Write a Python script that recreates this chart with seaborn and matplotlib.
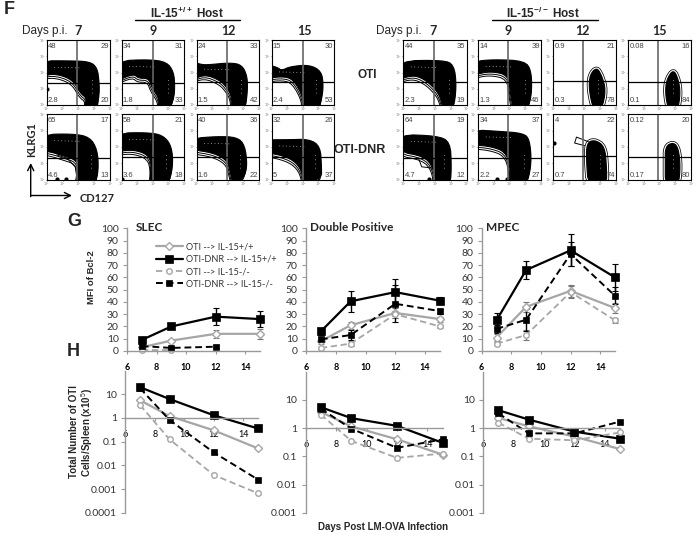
import matplotlib
matplotlib.use('Agg')
import matplotlib.pyplot as plt
from matplotlib.ticker import FixedLocator, FixedFormatter
import seaborn as sns

W, H = 696, 534
GRAY = '#a6a6a6'
AXIS = '#999999'
TEXT = '#333333'

days = [7, 9, 12, 15]
series_names = ['OTI --> IL-15+/+', 'OTI-DNR --> IL-15+/+', 'OTI --> IL-15-/-', 'OTI-DNR --> IL-15-/-']

# panel G, MFI of Bcl-2 (None = not measured)
slec_oti_wt = [3, 8.5, 14, 14]
slec_dnr_wt = [9, 20, 28, 26]
slec_oti_ko = [1, 1, None, None]
slec_dnr_ko = [4, 2.5, 3.5, None]
slec_err_oti_wt = [1, 1, 3.5, 4]
slec_err_dnr_wt = [1.5, 1.5, 7, 6.5]
slec_err_oti_ko = [0.5, 0.5, None, None]
slec_err_dnr_ko = [1, 1, 1, None]

dp_oti_wt = [8, 21, 31, 26]
dp_dnr_wt = [16, 40.5, 48, 41]
dp_oti_ko = [2.5, 6, 30, 20]
dp_dnr_ko = [9.5, 13, 38.5, 32.5]
dp_err_oti_wt = [2, 3, 4, 2]
dp_err_dnr_wt = [3, 8.5, 10.5, 3]
dp_err_oti_ko = [1, 2, 3, 1.5]
dp_err_dnr_ko = [2, 4, 15, 2]

mpec_oti_wt = [11, 36, 49, 35]
mpec_dnr_wt = [25, 66, 82, 60]
mpec_oti_ko = [6, 13, 48, 25]
mpec_dnr_ko = [18, 25.5, 79, 45]
mpec_err_oti_wt = [3, 4, 5, 4]
mpec_err_dnr_wt = [6, 7.5, 13, 11]
mpec_err_oti_ko = [1, 4, 5, 2]
mpec_err_dnr_ko = [3, 9, 10, 7]

# panel H, total cells per spleen
h_slec_oti_wt = [5.6, 1.2, 0.3, 0.052]
h_slec_dnr_wt = [20, 6.3, 1.3, 0.36]
h_slec_oti_ko = [3.5, 0.125, 0.0039, 0.00066]
h_slec_dnr_ko = [18, 0.82, 0.035, 0.0025]

h_dp_oti_wt = [3.7, 1.15, 0.4, 0.115]
h_dp_dnr_wt = [5.5, 2.25, 1.2, 0.3]
h_dp_oti_ko = [3, 0.35, 0.088, 0.125]
h_dp_dnr_ko = [4.8, 0.95, 0.2, 0.4]

h_mpec_oti_wt = [2.3, 1.15, 0.5, 0.18]
h_mpec_dnr_wt = [4.3, 2, 0.75, 0.42]
h_mpec_oti_ko = [1.55, 0.42, 0.37, 0.7]
h_mpec_dnr_ko = [3.3, 0.65, 0.65, 1.7]

g_ticks = list(range(0, 101, 10))
x_ticks = [6, 8, 10, 12, 14]
h_ticks_slec = [0.0001, 0.001, 0.01, 0.1, 1, 10]
h_labels_slec = ['0.0001', '0.001', '0.01', '0.1', '1', '10']
h_ticks_other = [0.001, 0.01, 0.1, 1, 10]
h_labels_other = ['0.001', '0.01', '0.1', '1', '10']

# flow cytometry panels: quadrant percentages UL, UR, LL, LR
pct_wt_oti = [[48, 29, 2.8, 20], [34, 31, 1.8, 33], [24, 33, 1.5, 42], [15, 30, 2.4, 53]]
pct_wt_dnr = [[65, 17, 4.6, 13], [58, 21, 3.6, 18], [40, 36, 1.6, 22], [32, 26, 5, 37]]
pct_ko_oti = [[44, 35, 2.3, 19], [14, 39, 1.3, 46], [0.9, 21, 0.3, 78], [0.08, 16, 0.1, 84]]
pct_ko_dnr = [[64, 19, 4.7, 12], [34, 37, 2.2, 27], [4, 22, 0.7, 74], [0.12, 20, 0.17, 80]]

# gate positions per panel (fraction of the panel)
gate_x_wt = [0.48, 0.505, 0.48, 0.497]
gate_x_ko = [0.49, 0.48, 0.48, 0.48]
gate_y_wt_oti = [0.337, 0.337, 0.357, 0.357]
gate_y_wt_dnr = [0.34, 0.345, 0.345, 0.345]
gate_y_ko_oti = [0.347, 0.347, 0.367, 0.357]
gate_y_ko_dnr = [0.34, 0.34, 0.37, 0.345]

# outermost contour of each flow plot
wt_oti_7 = [(0, .68), (.32, .68), (.68, .67), (.80, .57), (.83, .34), (.83, .16), (.79, 0), (.57, 0), (.64, .10), (.53, .18), (.43, .36), (.26, .45), (.05, .48), (0, .41)]
wt_oti_9 = [(0, .68), (.45, .70), (.72, .66), (.83, .51), (.85, .29), (.83, .08), (.74, 0), (.56, 0), (.61, .08), (.48, .27), (.43, .41), (.27, .41), (.19, .48), (0, .37)]
wt_oti_12 = [(0, .67), (.08, .62), (.2, .62), (.52, .65), (.72, .62), (.81, .44), (.81, .18), (.77, 0), (.56, 0), (.56, .13), (.48, .27), (.37, .38), (.13, .47), (0, .38)]
wt_oti_15 = [(0, .62), (.09, .58), (.16, .53), (.29, .59), (.6, .62), (.8, .52), (.83, .29), (.8, .08), (.75, 0), (.48, 0), (.51, .11), (.35, .39), (.19, .44), (0, .41)]
wt_dnr_7 = [(0, .69), (.42, .7), (.68, .65), (.8, .46), (.82, .15), (.76, 0), (.45, 0), (.5, .15), (.47, .3), (.28, .36), (.05, .43), (0, .43)]
wt_dnr_9 = [(0, .71), (.4, .72), (.66, .68), (.8, .51), (.82, .2), (.74, 0), (.45, 0), (.48, .2), (.43, .38), (.19, .46), (0, .43)]
wt_dnr_12 = [(0, .63), (.32, .66), (.64, .65), (.77, .53), (.81, .2), (.74, .02), (.58, 0), (.53, .15), (.48, .3), (.27, .41), (0, .46)]
wt_dnr_15 = [(0, .61), (.24, .61), (.6, .62), (.78, .51), (.8, .2), (.8, .03), (.51, 0), (.48, .15), (.35, .3), (.13, .38), (0, .41)]
ko_oti_7 = [(0, .68), (.63, .69), (.8, .62), (.84, .29), (.79, 0), (.63, 0), (.58, .13), (.49, .26), (.34, .39), (.16, .46), (0, .39)]
ko_oti_9 = [(0, .67), (.24, .7), (.74, .68), (.85, .52), (.85, .13), (.77, 0), (.56, 0), (.51, .18), (.48, .46), (.19, .52), (0, .46)]
ko_oti_12 = [(.58, .46), (.69, .58), (.77, .46), (.84, .23), (.77, 0), (.64, 0), (.57, .23)]
ko_oti_15 = [(.61, .39), (.72, .55), (.8, .39), (.83, .18), (.79, 0), (.64, 0), (.59, .18)]
ko_dnr_7 = [(0, .69), (.53, .67), (.74, .58), (.76, .2), (.74, 0), (.5, 0), (.47, .2), (.32, .36), (0, .43)]
ko_dnr_9 = [(0, .76), (.29, .74), (.72, .71), (.82, .61), (.85, .25), (.77, 0), (.51, 0), (.51, .2), (.43, .43), (.19, .51), (0, .53)]
ko_dnr_12 = [(.53, .56), (.66, .61), (.82, .51), (.85, .2), (.85, 0), (.56, 0), (.53, .25)]
ko_dnr_15 = [(.59, .51), (.72, .57), (.8, .48), (.83, .2), (.8, 0), (.59, 0), (.59, .25)]

# stray low density loops
loop_wt_dnr_7 = [(.16, .38), (.32, .33), (.45, .2), (.48, .02)]
loop_ko_dnr_7 = [(.24, .33), (.29, .2), (.47, .18)]
loop_ko_dnr_12 = [(.56, .58), (.37, .65), (.34, .56), (.5, .52)]

# single events on the panel edges
events_wt_oti = [[(.01, .25)], [], [], []]
events_wt_dnr = [[(.17, .01), (.31, .01)], [(.01, .01)], [], []]
events_ko_oti = [[], [], [], []]
events_ko_dnr = [[(.4, .01)], [(.3, .01), (.45, .01)], [(.01, .56)], []]


def px_axes(fig, left, top, right, bottom):
    return fig.add_axes([left / W, 1 - bottom / H, (right - left) / W, (bottom - top) / H])


def px_text(fig, x, y, s, **kw):
    kw.setdefault('ha', 'left')
    kw.setdefault('va', 'center')
    return fig.text(x / W, 1 - y / H, s, **kw)


def round_corners(outline, passes=2):
    # corner cutting, only so the contour is not drawn with sharp kinks.
    # points on the panel edge are pushed outside first so they stay flush
    pts = [(-0.08 if p[0] == 0 else p[0], -0.08 if p[1] == 0 else p[1]) for p in outline]
    for _ in range(passes):
        out = []
        for a, b in zip(pts, pts[1:] + pts[:1]):
            out.append((0.75 * a[0] + 0.25 * b[0], 0.75 * a[1] + 0.25 * b[1]))
            out.append((0.25 * a[0] + 0.75 * b[0], 0.25 * a[1] + 0.75 * b[1]))
        pts = out
    return pts


def draw_flow(ax, outline, pct, gate_x, gate_y, loop, events):
    pts = round_corners(outline)
    xs = [p[0] for p in pts]
    ys = [p[1] for p in pts]
    if min(p[0] for p in outline) > 0:
        # small populations: rings all the way round
        ax.fill(xs, ys, fc='white', ec='black', lw=3.6, joinstyle='round')
        ax.fill(xs, ys, fc='white', ec='white', lw=2.5, joinstyle='round')
    else:
        for shift_x, shift_y in [(-0.02, -0.06), (-0.01, -0.03)]:
            ax.fill([x + shift_x for x in xs], [y + shift_y for y in ys], fc='white', ec='black', lw=0.7, joinstyle='round')
    ax.fill(xs, ys, fc='black', ec='black', lw=0.8, joinstyle='round')
    if loop:
        ax.plot([p[0] for p in loop], [p[1] for p in loop], color='black', lw=0.7)
    for ev in events:
        ax.plot([ev[0]], [ev[1]], 'o', color='black', ms=2)
    # bright spots in the densest part of the population
    right_x = max(xs) - 0.11
    ax.plot([right_x, right_x], [0.18, 0.42], color='white', lw=0.5, ls=(0, (1, 5)))
    if min(p[0] for p in outline) == 0:
        ax.plot([0.12, 0.55], [max(ys) - 0.1, max(ys) - 0.11], color='white', lw=0.5, ls=(0, (1, 4)))
    ax.axvline(gate_x, color='#666666', lw=1.2)
    ax.axhline(gate_y, color='black', lw=0.9)
    ax.set_xlim(0, 1)
    ax.set_ylim(0, 1)
    for val, x, y, ha, va in zip(pct, [0.02, 0.98, 0.02, 0.98], [0.96, 0.96, 0.02, 0.02], ['left', 'right', 'left', 'right'], ['top', 'top', 'bottom', 'bottom']):
        ax.text(x, y, str(val), fontsize=5.5, color='#444444', ha=ha, va=va, family='Liberation Sans')
    ax.xaxis.set_major_locator(FixedLocator([0, 0.25, 0.5, 0.75, 1]))
    ax.yaxis.set_major_locator(FixedLocator([0, 0.25, 0.5, 0.75, 1]))
    ax.xaxis.set_major_formatter(FixedFormatter(['10⁰', '10¹', '10²', '10³', '10⁴']))
    ax.yaxis.set_major_formatter(FixedFormatter(['10⁰', '10¹', '10²', '10³', '10⁴']))
    ax.tick_params(length=1, width=0.4, pad=0.5, labelsize=2.5, labelcolor='#777777', bottom=True, left=True)
    for spine in ax.spines.values():
        spine.set_linewidth(0.8)
        spine.set_color('black')


def draw_series(ax, values, style, label=None):
    xs = [d for d, v in zip(days, values) if v is not None]
    ys = [v for v in values if v is not None]
    sns.lineplot(x=xs, y=ys, ax=ax, sort=False, errorbar=None, label=label, **style)


def style_axis(ax):
    sns.despine(ax=ax)
    for name in ['left', 'bottom']:
        ax.spines[name].set_color(AXIS)
        ax.spines[name].set_linewidth(1)
    ax.set_xlim(6, 15)
    ax.xaxis.set_major_locator(FixedLocator(x_ticks))
    ax.xaxis.set_minor_locator(FixedLocator([]))
    ax.yaxis.set_minor_locator(FixedLocator([]))
    ax.set_xlabel('')
    ax.set_ylabel('')
    ax.tick_params(axis='y', length=3, width=0.8, color=AXIS, labelsize=7.5, labelcolor=TEXT, pad=3, left=True)
    ax.tick_params(axis='x', length=2.5, width=0.8, color=AXIS, labelsize=6.5, labelcolor='black', pad=6, bottom=True)
    for label in ax.get_xticklabels():
        label.set_fontweight('bold')


series_styles = [
    dict(color=GRAY, lw=1.6, marker='D', ms=4, mfc='white', mec=GRAY, mew=1),
    dict(color='black', lw=1.6, marker='s', ms=5.5, mfc='black', mec='black', mew=0.5),
    dict(color=GRAY, lw=1.3, ls=(0, (3.5, 2)), marker='o', ms=4, mfc='white', mec=GRAY, mew=1),
    dict(color='black', lw=1.4, ls=(0, (3.5, 2)), marker='s', ms=4, mfc='black', mec='black', mew=0.5),
]
err_colors = [GRAY, 'black', GRAY, 'black']

sns.set_theme(style='white')
plt.rcParams['font.family'] = ['Lato', 'DejaVu Sans']
plt.rcParams['mathtext.fontset'] = 'custom'
plt.rcParams['mathtext.rm'] = 'Liberation Sans'
plt.rcParams['mathtext.bf'] = 'Liberation Sans:bold'

fig = plt.figure(figsize=(W / 100, H / 100), dpi=100, facecolor='white')

# --- panel F ---
left_cols = [(46.7, 110), (121.7, 184.3), (196.7, 259.3), (271.7, 334)]
right_cols = [(403.3, 466.7), (478.3, 541), (553.3, 616), (628.3, 691)]
row_top = (40, 105)
row_bottom = (114, 180)

panels = [
    (left_cols, row_top, [wt_oti_7, wt_oti_9, wt_oti_12, wt_oti_15], pct_wt_oti, gate_x_wt, gate_y_wt_oti, [None] * 4, events_wt_oti),
    (left_cols, row_bottom, [wt_dnr_7, wt_dnr_9, wt_dnr_12, wt_dnr_15], pct_wt_dnr, gate_x_wt, gate_y_wt_dnr, [loop_wt_dnr_7, None, None, None], events_wt_dnr),
    (right_cols, row_top, [ko_oti_7, ko_oti_9, ko_oti_12, ko_oti_15], pct_ko_oti, gate_x_ko, gate_y_ko_oti, [None] * 4, events_ko_oti),
    (right_cols, row_bottom, [ko_dnr_7, ko_dnr_9, ko_dnr_12, ko_dnr_15], pct_ko_dnr, gate_x_ko, gate_y_ko_dnr, [loop_ko_dnr_7, None, loop_ko_dnr_12, None], events_ko_dnr),
]
for cols, row, outlines, pcts, gates_x, gates_y, loops, events in panels:
    for col, outline, pct, gx, gy, loop, ev in zip(cols, outlines, pcts, gates_x, gates_y, loops, events):
        draw_flow(px_axes(fig, col[0], row[0], col[1], row[1]), outline, pct, gx, gy, loop, ev)

ARIAL = 'Liberation Sans'
px_text(fig, 4, 10, 'F', fontsize=13, fontweight='bold', family=ARIAL)
px_text(fig, 187, 13, r'IL-15$^{\mathbf{+/+}}$ Host', fontsize=8.5, fontweight='bold', ha='center', family=ARIAL)
px_text(fig, 543, 13, r'IL-15$^{\mathbf{-/-}}$ Host', fontsize=8.5, fontweight='bold', ha='center', family=ARIAL)
fig.add_artist(plt.Line2D([135 / W, 240 / W], [1 - 20 / H] * 2, color='black', lw=1))
fig.add_artist(plt.Line2D([492 / W, 598 / W], [1 - 20 / H] * 2, color='black', lw=1))
px_text(fig, 22, 31, 'Days p.i.', fontsize=8.5, family=ARIAL)
px_text(fig, 376, 31, 'Days p.i.', fontsize=8.5, family=ARIAL)
for x, day in zip([78, 153, 228, 304, 433, 508, 582, 659], days + days):
    px_text(fig, x, 31, str(day), fontsize=9, fontweight='bold', ha='center')
px_text(fig, 357, 75, 'OTI', fontsize=8.5, fontweight='bold', family=ARIAL)
px_text(fig, 333, 150, 'OTI-DNR', fontsize=9, fontweight='bold', family=ARIAL)
px_text(fig, 32, 139, 'KLRG1', fontsize=8, fontweight='bold', rotation=90, ha='center')
px_text(fig, 80, 199, 'CD127', fontsize=8, fontweight='bold')
arrow = dict(arrowstyle='->', color='black', lw=1, mutation_scale=11, shrinkA=0, shrinkB=0)
fig.add_artist(matplotlib.patches.FancyArrowPatch((30.7 / W, 1 - 196.7 / H), (30.7 / W, 1 - 163 / H), transform=fig.transFigure, **arrow))
fig.add_artist(matplotlib.patches.FancyArrowPatch((30.7 / W, 1 - 195.5 / H), (72 / W, 1 - 195.5 / H), transform=fig.transFigure, **arrow))

# --- panel G ---
g_axes = [px_axes(fig, 127, 228.3, 260, 351), px_axes(fig, 306, 228.3, 440, 351), px_axes(fig, 481.7, 228.3, 615, 351)]
g_values = [
    [slec_oti_wt, slec_dnr_wt, slec_oti_ko, slec_dnr_ko],
    [dp_oti_wt, dp_dnr_wt, dp_oti_ko, dp_dnr_ko],
    [mpec_oti_wt, mpec_dnr_wt, mpec_oti_ko, mpec_dnr_ko],
]
g_errors = [
    [slec_err_oti_wt, slec_err_dnr_wt, slec_err_oti_ko, slec_err_dnr_ko],
    [dp_err_oti_wt, dp_err_dnr_wt, dp_err_oti_ko, dp_err_dnr_ko],
    [mpec_err_oti_wt, mpec_err_dnr_wt, mpec_err_oti_ko, mpec_err_dnr_ko],
]
for i, ax in enumerate(g_axes):
    for values, errs, color in zip(g_values[i], g_errors[i], err_colors):
        xs = [d for d, v in zip(days, values) if v is not None]
        ys = [v for v in values if v is not None]
        es = [e for e in errs if e is not None]
        ax.errorbar(xs, ys, yerr=es, fmt='none', ecolor=color if color == 'black' else '#777777', elinewidth=1, capsize=2, capthick=0.8, clip_on=False, zorder=1.5)
    for j, (values, style) in enumerate(zip(g_values[i], series_styles)):
        draw_series(ax, values, style, label=series_names[j] if i == 0 else None)
    ax.set_ylim(0, 100)
    ax.yaxis.set_major_locator(FixedLocator(g_ticks))
    style_axis(ax)
    for line in ax.get_lines():
        line.set_clip_on(False)

legend = g_axes[0].legend(loc='upper left', bbox_to_anchor=(0.218, 0.885), frameon=False, fontsize=6.6, handlelength=2.9, labelspacing=0.36, handletextpad=0.35, borderpad=0, borderaxespad=0)
for t in legend.get_texts():
    t.set_color(TEXT)
px_text(fig, 136, 228, 'SLEC', fontsize=8.5, fontweight='bold')
px_text(fig, 310, 228, 'Double Positive', fontsize=8.5, fontweight='bold')
px_text(fig, 486, 228, 'MPEC', fontsize=8.5, fontweight='bold')
px_text(fig, 67, 221, 'G', fontsize=13, fontweight='bold', family=ARIAL)
px_text(fig, 67, 352, 'H', fontsize=13, fontweight='bold', family=ARIAL)
px_text(fig, 91, 277, 'MFI of Bcl-2', fontsize=6.8, fontweight='bold', rotation=90, ha='center', family=ARIAL)

# --- panel H ---
h_axes = [px_axes(fig, 125.3, 370.6, 258, 512.7), px_axes(fig, 305.7, 371.7, 442.7, 512.7), px_axes(fig, 483.3, 371.7, 620, 512.7)]
h_values = [
    [h_slec_oti_wt, h_slec_dnr_wt, h_slec_oti_ko, h_slec_dnr_ko],
    [h_dp_oti_wt, h_dp_dnr_wt, h_dp_oti_ko, h_dp_dnr_ko],
    [h_mpec_oti_wt, h_mpec_dnr_wt, h_mpec_oti_ko, h_mpec_dnr_ko],
]
h_ylims = [(0.0001, 100), (0.001, 100), (0.001, 100)]
h_ticks = [h_ticks_slec, h_ticks_other, h_ticks_other]
h_labels = [h_labels_slec, h_labels_other, h_labels_other]
for ax, values_set, ylim, ticks, labels in zip(h_axes, h_values, h_ylims, h_ticks, h_labels):
    ax.set_yscale('log')
    for values, style in zip(values_set, series_styles):
        draw_series(ax, values, style)
    ax.set_ylim(*ylim)
    ax.yaxis.set_major_locator(FixedLocator(ticks))
    ax.yaxis.set_major_formatter(FixedFormatter(labels))
    style_axis(ax)
    ax.spines['bottom'].set_position(('data', 1))
    for line in ax.get_lines():
        line.set_clip_on(False)
px_text(fig, 82, 432, 'Total Number of OTI\nCells/Spleen (x10$^{5}$)', fontsize=7, fontweight='bold', rotation=90, ha='center', multialignment='center', family=ARIAL, linespacing=1.1)
px_text(fig, 383, 526.7, 'Days Post LM-OVA Infection', fontsize=7, fontweight='bold', ha='center', family=ARIAL)

fig.savefig('out.png', dpi=100)
